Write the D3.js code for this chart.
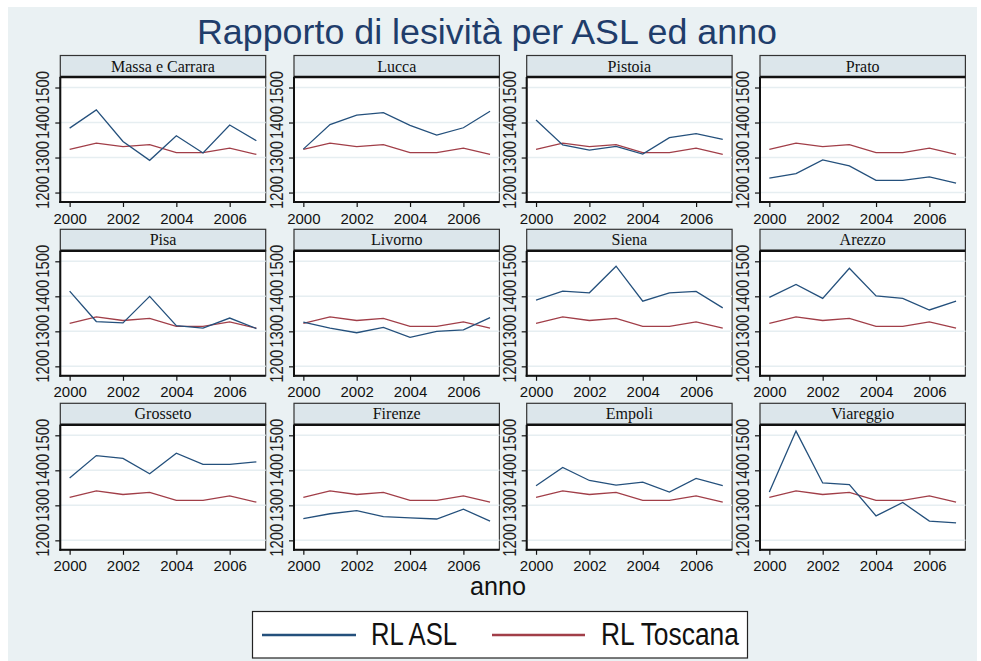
<!DOCTYPE html>
<html>

<head>
    <script src="https://d3js.org/d3.v7.min.js"></script>
    <style>
        body {
            margin: 0;
            background: #ffffff;
            font-family: 'Liberation Sans', Arial, sans-serif;
        }
    </style>
    <title>Rapporto di lesività</title>
</head>

<body>
    <svg id="chart" width="981" height="661"></svg>

    <script>
        // data
        var years = [2000, 2001, 2002, 2003, 2004, 2005, 2006, 2007];
        var aslNames = ["Massa e Carrara", "Lucca", "Pistoia", "Prato",
            "Pisa", "Livorno", "Siena", "Arezzo",
            "Grosseto", "Firenze", "Empoli", "Viareggio"];
        var rlToscana = [1323, 1341, 1331, 1337, 1314, 1314, 1327, 1309];
        var rlMassa = [1384, 1436, 1346, 1292, 1362, 1313, 1393, 1348];
        var rlLucca = [1324, 1394, 1421, 1428, 1392, 1364, 1385, 1432];
        var rlPistoia = [1407, 1336, 1321, 1332, 1310, 1357, 1368, 1352];
        var rlPrato = [1241, 1254, 1293, 1276, 1235, 1235, 1245, 1227];
        var rlPisa = [1415, 1328, 1324, 1400, 1316, 1309, 1338, 1308];
        var rlLivorno = [1326, 1309, 1296, 1311, 1283, 1300, 1304, 1339];
        var rlSiena = [1389, 1415, 1410, 1486, 1386, 1410, 1414, 1367];
        var rlArezzo = [1397, 1434, 1394, 1480, 1401, 1394, 1361, 1386];
        var rlGrosseto = [1378, 1442, 1434, 1390, 1449, 1417, 1417, 1424];
        var rlFirenze = [1262, 1276, 1285, 1268, 1264, 1261, 1289, 1255];
        var rlEmpoli = [1356, 1408, 1371, 1358, 1366, 1338, 1377, 1356];
        var rlViareggio = [1338, 1512, 1364, 1359, 1270, 1308, 1255, 1250];
        var aslSeries = [rlMassa, rlLucca, rlPistoia, rlPrato,
            rlPisa, rlLivorno, rlSiena, rlArezzo,
            rlGrosseto, rlFirenze, rlEmpoli, rlViareggio];
        var yTicks = [1200, 1300, 1400, 1500];
        var xTicks = [2000, 2002, 2004, 2006];
        var legendLabels = ["RL ASL", "RL Toscana"];

        var blue = "#24507c";
        var red = "#a13e48";

        var svg = d3.select("#chart");

        svg.append("rect")
            .attr("x", 8)
            .attr("y", 7)
            .attr("width", 969)
            .attr("height", 654)
            .style("fill", "#eaf1f3");

        svg.append("text")
            .attr("x", 487)
            .attr("y", 44)
            .attr("text-anchor", "middle")
            .attr("textLength", 580)
            .attr("lengthAdjust", "spacingAndGlyphs")
            .style("font-size", "35px")
            .style("fill", "#1f3d6b")
            .text("Rapporto di lesività per ASL ed anno");

        var colLeft = [60.3, 294, 526.7, 760];
        var rowTop = [55.5, 229.3, 403.3];
        var panelW = 205.4;
        var stripH = 21.5;
        var plotH = 125;

        var xScale = d3.scaleLinear()
            .domain([1999.65, 2007.35])
            .range([0, panelW]);
        var yScale = d3.scaleLinear()
            .domain([1173, 1530])
            .range([plotH, 0]);

        var line = d3.line()
            .x(function (d, i) { return xScale(years[i]); })
            .y(function (d) { return yScale(d); });

        aslNames.forEach(function (name, k) {
            var px = colLeft[k % 4];
            var py = rowTop[Math.floor(k / 4)];

            var g = svg.append("g")
                .attr("transform", "translate(" + px + "," + py + ")");

            // strip with the ASL name
            g.append("rect")
                .attr("width", panelW)
                .attr("height", stripH)
                .style("fill", "#dce6eb")
                .style("stroke", "#333")
                .style("stroke-width", 1.2);
            g.append("text")
                .attr("x", panelW / 2)
                .attr("y", 16)
                .attr("text-anchor", "middle")
                .style("font-family", "'Liberation Serif', 'Times New Roman', serif")
                .style("font-size", "16px")
                .style("fill", "#111")
                .text(name);

            var plot = g.append("g")
                .attr("transform", "translate(0," + stripH + ")");

            plot.append("rect")
                .attr("width", panelW)
                .attr("height", plotH)
                .style("fill", "#ffffff")
                .style("stroke", "#444")
                .style("stroke-width", 1.2);

            plot.selectAll(".grid")
                .data(yTicks)
                .enter()
                .append("line")
                .attr("x1", 0)
                .attr("x2", panelW)
                .attr("y1", function (d) { return yScale(d); })
                .attr("y2", function (d) { return yScale(d); })
                .style("stroke", "#e6eef1")
                .style("stroke-width", 1.5);

            // axes
            var yAxis = plot.append("g")
                .call(d3.axisLeft(yScale).tickValues(yTicks).tickSize(5).tickFormat(""));
            yAxis.select(".domain").remove();
            yAxis.selectAll("line").style("stroke", "#111").style("stroke-width", 1.2);

            yAxis.selectAll(".ylab")
                .data(yTicks)
                .enter()
                .append("text")
                .attr("transform", function (d) {
                    return "translate(-11," + yScale(d) + ") rotate(-90)";
                })
                .attr("text-anchor", "middle")
                .attr("textLength", 33)
                .attr("lengthAdjust", "spacingAndGlyphs")
                .style("font-family", "'Liberation Sans', Arial, sans-serif")
                .style("font-size", "19px")
                .style("fill", "#222")
                .text(function (d) { return d; });

            var xAxis = plot.append("g")
                .attr("transform", "translate(0," + plotH + ")")
                .call(d3.axisBottom(xScale).tickValues(xTicks).tickSize(5).tickFormat(d3.format("d")));
            xAxis.select(".domain").remove();
            xAxis.selectAll("line").style("stroke", "#111").style("stroke-width", 1.2);
            xAxis.selectAll("text")
                .attr("y", 11)
                .style("font-family", "'Liberation Sans', Arial, sans-serif")
                .style("font-size", "15px")
                .style("fill", "#111");

            plot.append("line")
                .attr("x1", 0).attr("x2", 0)
                .attr("y1", 0).attr("y2", plotH + 1)
                .style("stroke", "#111")
                .style("stroke-width", 2);
            plot.append("line")
                .attr("x1", -1).attr("x2", panelW)
                .attr("y1", plotH).attr("y2", plotH)
                .style("stroke", "#111")
                .style("stroke-width", 2);
            plot.append("line")
                .attr("x1", 0).attr("x2", panelW)
                .attr("y1", 0).attr("y2", 0)
                .style("stroke", "#111")
                .style("stroke-width", 2.5);

            plot.append("path")
                .datum(rlToscana)
                .attr("d", line)
                .style("fill", "none")
                .style("stroke", red)
                .style("stroke-width", 1.3);

            plot.append("path")
                .datum(aslSeries[k])
                .attr("d", line)
                .style("fill", "none")
                .style("stroke", blue)
                .style("stroke-width", 1.3);
        });

        svg.append("text")
            .attr("x", 498)
            .attr("y", 595)
            .attr("text-anchor", "middle")
            .attr("textLength", 56)
            .attr("lengthAdjust", "spacingAndGlyphs")
            .style("font-size", "26px")
            .style("fill", "#111")
            .text("anno");

        // legend
        var legend = svg.append("g");
        legend.append("rect")
            .attr("x", 252.5)
            .attr("y", 611.5)
            .attr("width", 495)
            .attr("height", 46.5)
            .style("fill", "#ffffff")
            .style("stroke", "#222")
            .style("stroke-width", 1.2);

        var legendLine = [[262, 356], [492, 585]];
        var legendText = [[371, 86], [601, 138]];
        var legendColor = [blue, red];

        legendLabels.forEach(function (lab, i) {
            legend.append("line")
                .attr("x1", legendLine[i][0])
                .attr("x2", legendLine[i][1])
                .attr("y1", 635)
                .attr("y2", 635)
                .style("stroke", legendColor[i])
                .style("stroke-width", 2.5);
            legend.append("text")
                .attr("x", legendText[i][0])
                .attr("y", 645)
                .attr("textLength", legendText[i][1])
                .attr("lengthAdjust", "spacingAndGlyphs")
                .style("font-size", "31px")
                .style("fill", "#111")
                .text(lab);
        });
    </script>
</body>

</html>
